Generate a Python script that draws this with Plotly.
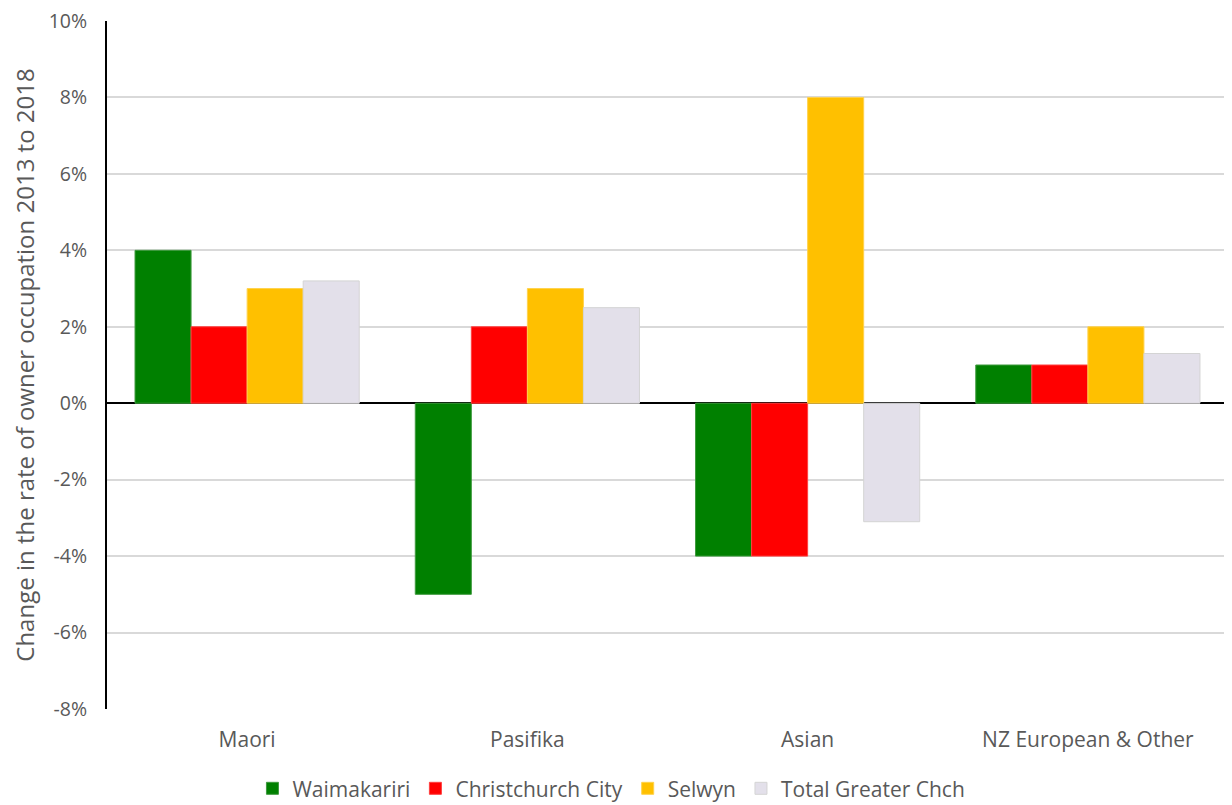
import plotly.graph_objects as go

categories = ["Maori", "Pasifika", "Asian", "NZ European & Other"]
series_names = ["Waimakariri", "Christchurch City", "Selwyn", "Total Greater Chch"]
waimakariri = [4.0, -5.0, -4.0, 1.0]
christchurch = [2.0, 2.0, -4.0, 1.0]
selwyn = [3.0, 3.0, 8.0, 2.0]
total_chch = [3.2, 2.5, -3.1, 1.3]
tick_vals = [-8, -6, -4, -2, 0, 2, 4, 6, 8, 10]
tick_text = [f"{v}%" for v in tick_vals]

colors = ["#008000", "#ff0000", "#ffc000", "#e3e0ea"]
line_colors = ["#3f9a3f", "#ff4040", "#ffd24d", "#d4d4d4"]

fig = go.Figure()
for name, vals, c, lc in zip(series_names, [waimakariri, christchurch, selwyn, total_chch], colors, line_colors):
    fig.add_trace(go.Bar(
        name=name, x=categories, y=vals,
        marker=dict(color=c, line=dict(color=lc, width=1)),
    ))

font_family = "Open Sans, Noto Sans, sans-serif"
fig.update_layout(
    barmode="group", bargap=0.2, bargroupgap=0,
    width=1224, height=797,
    margin=dict(l=99, r=4, t=13, b=96, autoexpand=False),
    paper_bgcolor="white", plot_bgcolor="white",
    font=dict(family=font_family, color="#595959", size=20),
    legend=dict(orientation="h", x=0.45, xanchor="center", y=-0.086, yanchor="top",
                font=dict(size=21, color="#595959"), traceorder="normal",
                itemwidth=30, tracegroupgap=0),
    showlegend=True,
)
fig.update_yaxes(
    range=[-8, 10], tickvals=tick_vals, ticktext=tick_text,
    showgrid=True, gridcolor="#d9d9d9", gridwidth=1.5,
    zeroline=True, zerolinecolor="#000000", zerolinewidth=2,
    showline=True, linecolor="#000000", linewidth=2,
    ticks="", ticklen=0, automargin=False, ticklabelstandoff=14,
    ticklabeloverflow="allow",
    title=dict(text="Change in the rate of owner occupation 2013 to 2018", font=dict(size=24, color="#595959"), standoff=12),
    tickfont=dict(size=19.5, color="#595959"),
)
fig.update_xaxes(
    showline=False, ticks="", automargin=False, ticklabelstandoff=16,
    tickfont=dict(size=21, color="#595959"),
)
fig.write_html("out.html")
